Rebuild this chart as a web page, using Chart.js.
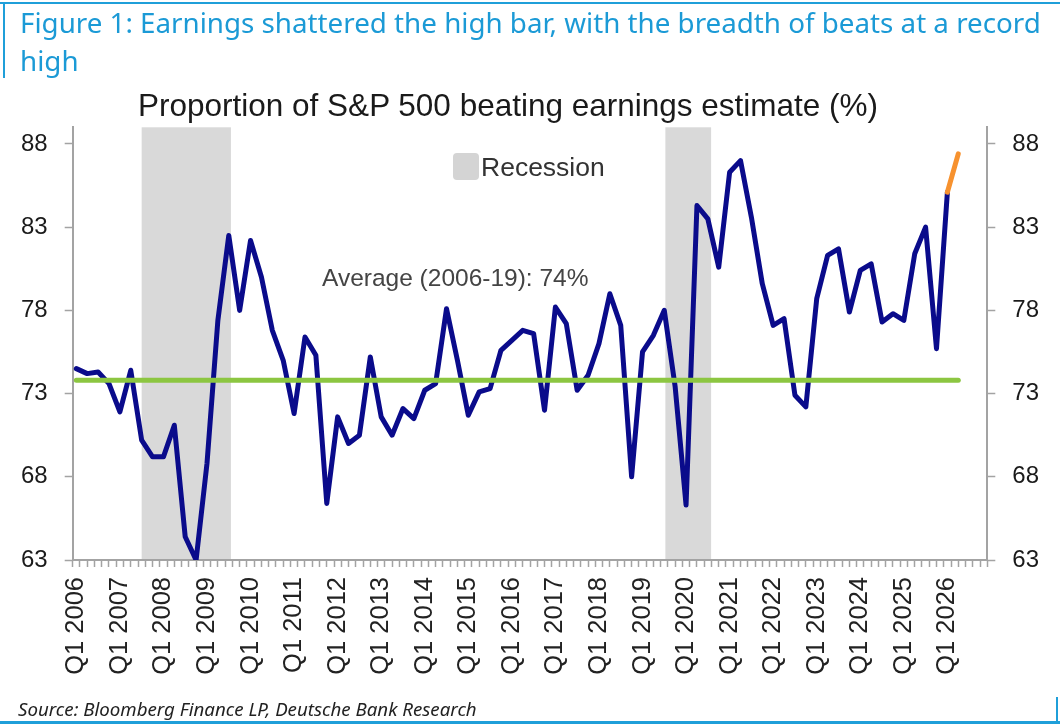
<!DOCTYPE html>
<html>
<head>
<meta charset="utf-8">
<title>Proportion of S&amp;P 500 beating earnings estimate</title>
<script src="https://cdn.jsdelivr.net/npm/chart.js"></script>
<style>
  html, body { margin: 0; padding: 0; background: #fff; }
  #wrap { position: relative; width: 1060px; height: 726px; overflow: hidden; }
  #chart { position: absolute; left: 0; top: 0; }
  .rule { position: absolute; background: #1f9fd9; }
  #heading { position: absolute; left: 20px; top: 3px; font: 27.75px/38.4px "Noto Sans", sans-serif; color: #1b9ad6; white-space: nowrap; }
  #source { position: absolute; left: 18px; top: 699.5px; font: italic 18.7px/1 "Noto Sans", sans-serif; color: #222; white-space: nowrap; }
  .note { position: absolute; font-family: "Liberation Sans", Arial, sans-serif; line-height: 1; white-space: nowrap; }
  #legendBox { position: absolute; left: 453px; top: 153px; width: 26px; height: 27px; border-radius: 4px; background: #d4d4d4; }
</style>
</head>
<body>
<div id="wrap">
  <canvas id="chart" width="1060" height="726"></canvas>
  <div class="rule" style="left:0;top:2px;width:1060px;height:2px"></div>
  <div class="rule" style="left:3px;top:2px;width:2px;height:76px"></div>
  <div class="rule" style="left:0;top:721px;width:1060px;height:3px"></div>
  <div class="rule" style="left:1056px;top:697px;width:2px;height:26px"></div>
  <div id="heading">Figure 1: Earnings shattered the high bar, with the breadth of beats at a record<br>high</div>
  <div class="note" style="left:138px;top:90px;font-size:31.5px;color:#1a1a1a">Proportion of S&amp;P 500 beating earnings estimate (%)</div>
  <div id="legendBox"></div>
  <div class="note" style="left:481px;top:153.6px;font-size:26.5px;color:#333">Recession</div>
  <div class="note" style="left:322px;top:266px;font-size:24.5px;color:#444">Average (2006-19): 74%</div>
  <div id="source">Source: Bloomberg Finance LP, Deutsche Bank Research</div>
</div>
<script>
// quarterly data, Q1 2006 .. Q1 2026 (index = quarters since Q1 2006)
const tickLabels = ['Q1 2006', 'Q1 2007', 'Q1 2008', 'Q1 2009', 'Q1 2010', 'Q1 2011', 'Q1 2012',
  'Q1 2013', 'Q1 2014', 'Q1 2015', 'Q1 2016', 'Q1 2017', 'Q1 2018', 'Q1 2019', 'Q1 2020',
  'Q1 2021', 'Q1 2022', 'Q1 2023', 'Q1 2024', 'Q1 2025', 'Q1 2026'];

const beats = [
  74.5, 74.2, 74.3, 73.6, 71.9, 74.4, 70.2, 69.2, 69.2, 71.1,
  64.4, 63.0, 68.8, 77.4, 82.5, 78.0, 82.2, 80.0, 76.8, 75.0,
  71.8, 76.4, 75.3, 66.4, 71.6, 70.0, 70.5, 75.2, 71.6, 70.5,
  72.1, 71.5, 73.2, 73.6, 78.1, 75.0, 71.7, 73.1, 73.3, 75.6,
  76.2, 76.8, 76.6, 72.0, 78.2, 77.2, 73.2, 74.1, 76.0, 79.0,
  77.1, 68.0, 75.5, 76.5, 78.0, 73.4, 66.3, 84.3, 83.5, 80.6,
  86.3, 87.0, 83.6, 79.6, 77.1, 77.5, 72.9, 72.2, 78.7, 81.3,
  81.7, 77.9, 80.4, 80.8, 77.3, 77.8, 77.4, 81.4, 83.0, 75.7,
  85.1
];
// latest reading (orange), from the last quarter to the current one
const latestIdx = [80, 81];
const latest = [85.1, 87.4];

// 2006-19 average line
const avgIdx = [0, 81];
const avgValue = [73.8, 73.8];

const yTicks = [63, 68, 73, 78, 83, 88];

// recession spans, in quarters since Q1 2006
const recessionStart = [6.0, 54.1];
const recessionEnd = [14.2, 58.3];

// x axis runs in months so the tick marks (every 2 months) can sit between quarters
const toMonth = q => q * 3;

const recessionShade = {
  id: 'recessionShade',
  beforeDraw(chart) {
    const { ctx, chartArea, scales } = chart;
    ctx.save();
    ctx.fillStyle = '#d9d9d9';
    recessionStart.forEach((s, k) => {
      const x0 = scales.x.getPixelForValue(toMonth(s));
      const x1 = scales.x.getPixelForValue(toMonth(recessionEnd[k]));
      ctx.fillRect(x0, chartArea.top, x1 - x0, chartArea.bottom - chartArea.top);
    });
    ctx.restore();
  }
};

const axisGrey = '#a3a3a3';
const fontFamily = '"Liberation Sans", Arial, sans-serif';

function yAxis(position) {
  return {
    position: position,
    min: 63,
    max: 89,
    afterBuildTicks(axis) { axis.ticks = yTicks.map(v => ({ value: v })); },
    afterFit(axis) { axis.width = 72.7; },
    grid: { drawOnChartArea: false, tickLength: 8, tickWidth: 1.5, tickColor: axisGrey },
    border: { color: axisGrey, width: 2 },
    ticks: { padding: 17, font: { family: fontFamily, size: 24 }, color: '#1a1a1a' }
  };
}

new Chart(document.getElementById('chart'), {
  type: 'line',
  data: {
    datasets: [
      {
        label: 'Latest',
        data: latest.map((v, i) => ({ x: toMonth(latestIdx[i]), y: v })),
        borderColor: '#f7922f',
        borderWidth: 5,
        borderCapStyle: 'round',
        pointRadius: 0
      },
      {
        label: 'Average (2006-19)',
        data: avgValue.map((v, i) => ({ x: toMonth(avgIdx[i]), y: v })),
        borderColor: '#8cc641',
        borderWidth: 5,
        borderCapStyle: 'round',
        pointRadius: 0
      },
      {
        label: 'Proportion beating',
        data: beats.map((v, i) => ({ x: toMonth(i), y: v })),
        borderColor: '#0a0b8b',
        borderWidth: 5,
        borderJoinStyle: 'round',
        borderCapStyle: 'round',
        pointRadius: 0,
        tension: 0
      }
    ]
  },
  options: {
    responsive: false,
    animation: false,
    layout: { padding: { top: 127.3, bottom: 40, left: 0, right: 0 } },
    plugins: {
      legend: { display: false },
      tooltip: { enabled: false },
      title: { display: false }
    },
    scales: {
      x: {
        type: 'linear',
        min: -1,
        max: 251,
        afterBuildTicks(axis) {
          const t = [];
          for (let m = -1; m <= 251; m++) {
            if (m % 2 !== 0 || (m % 12 === 0 && m <= 240)) t.push({ value: m });
          }
          axis.ticks = t;
        },
        afterFit(axis) { axis.height = 126; },
        grid: {
          drawOnChartArea: false,
          tickLength: 7,
          tickWidth: 1.5,
          tickColor: c => (c.tick && c.tick.value % 2 !== 0) ? axisGrey : 'rgba(0,0,0,0)'
        },
        border: { color: axisGrey, width: 2 },
        ticks: {
          autoSkip: false,
          minRotation: 90,
          maxRotation: 90,
          padding: 10,
          font: { family: fontFamily, size: 25.5 },
          color: '#222',
          callback: v => (v % 12 === 0 && v >= 0 && v <= 240) ? tickLabels[v / 12] : ''
        }
      },
      y: yAxis('left'),
      y2: yAxis('right')
    }
  },
  plugins: [recessionShade]
});
</script>
</body>
</html>
